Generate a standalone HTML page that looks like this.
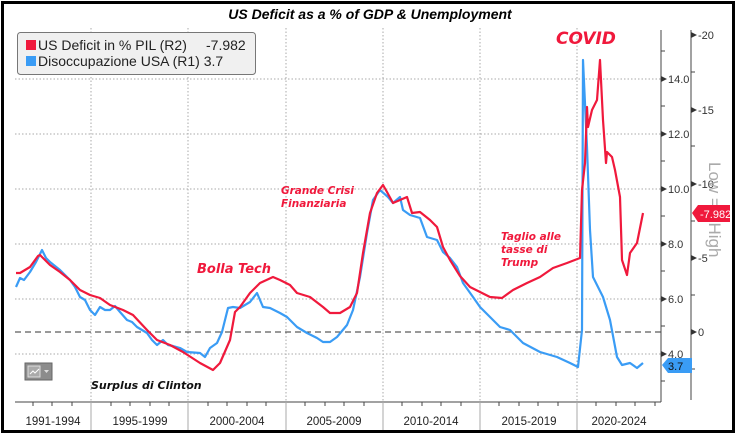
<!DOCTYPE html>
<html><head><meta charset="utf-8"><style>
html,body{margin:0;padding:0;background:#fff}
svg{display:block;font-family:"Liberation Sans",sans-serif}
</style></head><body>
<svg width="736" height="434" viewBox="0 0 736 434" xmlns="http://www.w3.org/2000/svg">
<rect x="0" y="0" width="736" height="434" fill="#fff"/>
<rect x="2.5" y="2.5" width="731" height="429" fill="none" stroke="#000" stroke-width="3"/>
<text x="370" y="19" text-anchor="middle" font-size="14" font-weight="bold" font-style="italic">US Deficit as a % of GDP &amp; Unemployment</text>
<g stroke="#aaa" stroke-width="1" stroke-dasharray="1.5,2">
<line x1="15" y1="79" x2="661" y2="79"/><line x1="15" y1="134" x2="661" y2="134"/><line x1="15" y1="189" x2="661" y2="189"/><line x1="15" y1="244" x2="661" y2="244"/><line x1="15" y1="299" x2="661" y2="299"/><line x1="15" y1="354" x2="661" y2="354"/>
<line x1="91" y1="28" x2="91" y2="402"/><line x1="188" y1="28" x2="188" y2="402"/><line x1="286" y1="28" x2="286" y2="402"/><line x1="383" y1="28" x2="383" y2="402"/><line x1="480" y1="28" x2="480" y2="402"/><line x1="577" y1="28" x2="577" y2="402"/>
</g>
<line x1="15" y1="332" x2="661" y2="332" stroke="#333" stroke-width="1" stroke-dasharray="6,4"/>
<line x1="15" y1="402" x2="661" y2="402" stroke="#444"/>
<g stroke="#444">
<line x1="33" y1="402" x2="33" y2="406"/><line x1="52" y1="402" x2="52" y2="406"/><line x1="72" y1="402" x2="72" y2="406"/>
<line x1="111" y1="402" x2="111" y2="406"/><line x1="130" y1="402" x2="130" y2="406"/><line x1="150" y1="402" x2="150" y2="406"/><line x1="169" y1="402" x2="169" y2="406"/>
<line x1="208" y1="402" x2="208" y2="406"/><line x1="227" y1="402" x2="227" y2="406"/><line x1="247" y1="402" x2="247" y2="406"/><line x1="266" y1="402" x2="266" y2="406"/>
<line x1="305" y1="402" x2="305" y2="406"/><line x1="325" y1="402" x2="325" y2="406"/><line x1="344" y1="402" x2="344" y2="406"/><line x1="364" y1="402" x2="364" y2="406"/>
<line x1="402" y1="402" x2="402" y2="406"/><line x1="422" y1="402" x2="422" y2="406"/><line x1="441" y1="402" x2="441" y2="406"/><line x1="461" y1="402" x2="461" y2="406"/>
<line x1="499" y1="402" x2="499" y2="406"/><line x1="519" y1="402" x2="519" y2="406"/><line x1="538" y1="402" x2="538" y2="406"/><line x1="558" y1="402" x2="558" y2="406"/>
<line x1="596" y1="402" x2="596" y2="406"/><line x1="616" y1="402" x2="616" y2="406"/><line x1="635" y1="402" x2="635" y2="406"/><line x1="655" y1="402" x2="655" y2="406"/>
</g>
<g stroke="#aaa"><line x1="91" y1="402" x2="91" y2="430"/><line x1="188" y1="402" x2="188" y2="430"/><line x1="286" y1="402" x2="286" y2="430"/><line x1="383" y1="402" x2="383" y2="430"/><line x1="480" y1="402" x2="480" y2="430"/><line x1="577" y1="402" x2="577" y2="430"/></g>
<g font-size="11.5" fill="#222" text-anchor="middle">
<text x="53" y="425">1991-1994</text><text x="140" y="425">1995-1999</text><text x="237" y="425">2000-2004</text><text x="334" y="425">2005-2009</text><text x="431" y="425">2010-2014</text><text x="529" y="425">2015-2019</text><text x="619" y="425">2020-2024</text>
</g>
<line x1="661" y1="30" x2="661" y2="402" stroke="#444"/>
<line x1="691" y1="30" x2="691" y2="400" stroke="#444"/>
<g stroke="#444"><line x1="661" y1="51" x2="665" y2="51"/><line x1="661" y1="106" x2="665" y2="106"/><line x1="661" y1="161" x2="665" y2="161"/><line x1="661" y1="216" x2="665" y2="216"/><line x1="661" y1="271" x2="665" y2="271"/><line x1="661" y1="326" x2="665" y2="326"/><line x1="661" y1="381" x2="665" y2="381"/>
<line x1="691" y1="72" x2="695" y2="72"/><line x1="691" y1="146" x2="695" y2="146"/><line x1="691" y1="221" x2="695" y2="221"/><line x1="691" y1="295" x2="695" y2="295"/><line x1="691" y1="369" x2="695" y2="369"/></g>
<g fill="#333">
<path d="M661 76 l6 3 l-6 3z"/><path d="M661 131 l6 3 l-6 3z"/><path d="M661 186 l6 3 l-6 3z"/><path d="M661 241 l6 3 l-6 3z"/><path d="M661 296 l6 3 l-6 3z"/><path d="M661 351 l6 3 l-6 3z"/>
<path d="M691 32 l6 3 l-6 3z"/><path d="M691 107 l6 3 l-6 3z"/><path d="M691 181 l6 3 l-6 3z"/><path d="M691 255 l6 3 l-6 3z"/><path d="M691 329 l6 3 l-6 3z"/>
</g>
<g font-size="11" fill="#333">
<text x="668" y="83">14.0</text><text x="668" y="138">12.0</text><text x="668" y="193">10.0</text><text x="668" y="248">8.0</text><text x="668" y="303">6.0</text><text x="668" y="358">4.0</text>
<text x="698" y="39">-20</text><text x="698" y="114">-15</text><text x="698" y="188">-10</text><text x="698" y="262">-5</text><text x="698" y="336">0</text>
</g>
<text x="0" y="0" transform="translate(709,162) rotate(90)" font-size="17" fill="#aaa">Low =&gt; High</text>
<path d="M692 213 l6 -8 h32 v17 h-32z" fill="#f0193c"/>
<text x="700" y="218" font-size="11" fill="#fff">-7.982</text>
<path d="M662 365 l6 -7 h24 v15 h-24z" fill="#3a9cf5"/>
<text x="668" y="370" font-size="11" fill="#111">3.7</text>
<polyline fill="none" stroke="#3a9cf5" stroke-width="2.2" stroke-linejoin="round" points="16,287 20,278 24,280 30,272 36,262 42,250 46,258 50,262 55,266 60,270 70,280 75,287 80,297 85,300 90,310 95,315 100,307 105,310 110,310 115,306 120,312 127,320 132,322 137,327 147,333 152,340 157,345 163,340 168,345 173,346 180,348 187,352 200,353 205,357 210,348 217,343 222,332 228,308 233,307 240,308 250,302 257,293 263,307 270,308 280,313 287,317 297,327 307,333 317,338 323,342 330,342 337,337 347,325 353,310 360,277 367,233 373,200 380,190 388,197 393,203 400,197 403,210 410,215 420,218 427,237 437,240 443,252 450,258 457,267 463,283 473,297 480,307 490,317 500,327 510,330 523,343 540,352 557,357 570,363 578,367 582,330 583,60 587,147 590,230 593,277 603,297 610,320 617,357 622,365 630,363 637,368 643,363"/>
<polyline fill="none" stroke="#f0193c" stroke-width="2.2" stroke-linejoin="round" points="16,273 20,273 30,267 38,256 40,255 50,265 60,272 70,280 80,290 90,295 100,298 110,305 123,310 133,315 147,330 157,340 170,345 183,352 200,363 213,370 220,363 230,340 235,312 240,307 250,293 260,283 273,277 280,280 290,285 297,293 310,297 323,307 330,313 340,313 350,307 357,293 363,253 370,213 377,193 383,185 387,192 393,203 407,197 412,213 420,212 430,220 437,227 443,247 450,260 460,276 470,287 480,292 490,297 502,298 513,290 527,283 540,277 553,268 567,263 580,258 582,190 585,163 587,107 588,127 592,110 597,100 600,60 603,120 606,163 607,152 612,157 615,170 620,197 622,260 627,275 630,253 637,243 643,213"/>
<g fill="#f0193c" font-weight="bold" font-style="italic" font-family="DejaVu Sans, sans-serif">
<text x="197" y="273" font-size="13">Bolla Tech</text>
<text x="281" y="194" font-size="10.5">Grande Crisi</text>
<text x="281" y="207" font-size="10.5">Finanziaria</text>
<text x="501" y="240" font-size="10.5">Taglio alle</text>
<text x="501" y="253" font-size="10.5">tasse di</text>
<text x="501" y="266" font-size="10.5">Trump</text>
<text x="556" y="44" font-size="17">COVID</text>
</g>
<text x="91" y="389" font-size="11" font-weight="bold" font-style="italic" fill="#111" font-family="DejaVu Sans, sans-serif">Surplus di Clinton</text>
<rect x="25" y="363" width="27" height="17" fill="#8c8c8c" stroke="#666"/>
<rect x="28" y="366" width="12" height="11" fill="#aaa" stroke="#ddd"/>
<path d="M30 374 l3 -3 l2 2 l4 -4" stroke="#fff" fill="none"/>
<path d="M44 370 h5 l-2.5 3z" fill="#ddd"/>
<rect x="17.5" y="32.5" width="238" height="42" rx="3" fill="#f0f0f0" stroke="#777"/>
<rect x="26" y="40" width="10" height="10" fill="#f0193c"/>
<rect x="26" y="56" width="10" height="10" fill="#3a9cf5"/>
<g font-size="14" fill="#222">
<text x="38" y="50">US Deficit in % PIL (R2)</text><text x="206" y="50">-7.982</text>
<text x="38" y="66">Disoccupazione USA (R1) 3.7</text>
</g>
</svg>
</body></html>
